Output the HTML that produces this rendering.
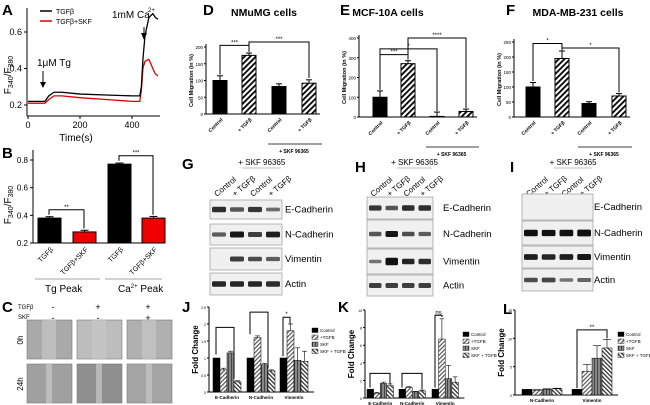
<!DOCTYPE html>
<html><head><meta charset="utf-8"><style>
body{margin:0;background:#fff}
svg{display:block;font-family:"Liberation Sans",sans-serif}
</style></head><body>
<svg id="fig" width="650" height="405" viewBox="0 0 650 405" xmlns="http://www.w3.org/2000/svg">
<defs>
<pattern id="hatch" width="4" height="4" patternUnits="userSpaceOnUse" patternTransform="rotate(45)"><rect width="4" height="4" fill="#fff"/><rect width="1.8" height="4" fill="#000"/></pattern>
<pattern id="hatch2" width="3" height="3" patternUnits="userSpaceOnUse" patternTransform="rotate(45)"><rect width="3" height="3" fill="#fff"/><rect width="1.2" height="3" fill="#555"/></pattern>
<pattern id="cross" width="3" height="3" patternUnits="userSpaceOnUse"><rect width="3" height="3" fill="#888"/><rect width="1" height="3" fill="#444"/></pattern>
<pattern id="hatch3" width="3" height="3" patternUnits="userSpaceOnUse" patternTransform="rotate(-45)"><rect width="3" height="3" fill="#fff"/><rect width="1.3" height="3" fill="#333"/></pattern>
</defs>
<g id="root"></g>
</svg>
<script>
// ---- Panel A data ----
const timeA = [0,50,65,80,100,130,200,300,400,430,436,442,450,465,480,490,500];
const blackA = [.22,.22,.22,.25,.27,.27,.26,.255,.25,.25,.30,.45,.58,.68,.70,.68,.67];
const redA = [.21,.21,.21,.23,.25,.25,.24,.23,.22,.22,.28,.40,.44,.45,.40,.37,.36];
const ticksAx = [0,200,400];
const ticksAy = [0.2,0.4,0.6];
// ---- Panel B ----
const catsB = ["TGFβ","TGFβ+SKF","TGFβ","TGFβ+SKF"];
const valsB = [0.38,0.28,0.77,0.38];
const errB = [0.01,0.012,0.008,0.012];
const ticksBy = [0.2,0.4,0.6,0.8];
// ---- Panels D/E/F ----
const catsDEF = ["Control","+ TGFβ","Control","+ TGFβ"];
const valsD = [100,175,82,92];
const errD = [14,7,8,10];
const ticksD = [0,50,100,150,200];
const valsE = [100,270,3,28];
const errE = [32,15,22,12];
const ticksE = [0,100,200,300,400];
const valsF = [100,195,45,70];
const errF = [15,25,6,8];
const ticksF = [0,50,100,150,200,250];
// ---- Panels J/K/L ----
const seriesNames = ["Control","+TGFB","SKF","SKF + TGFB"];
const groupsJ = ["E-Cadherin","N-Cadherin","Vimentin"];
const valsJ = [[1.0,0.65,1.15,0.3],[1.0,1.6,0.8,0.62],[1.0,1.8,0.93,0.9]];
const errJ = [[0,0.05,0.05,0.03],[0,0.05,0.04,0.03],[0,0.2,0.37,0.3]];
const ticksJ = [0,0.5,1.0,1.5,2.0,2.5];
const groupsK = ["E-Cadherin","N-Cadherin","Vimentin"];
const valsK = [[1.0,0.55,1.65,1.4],[1.0,1.2,0.7,0.8],[1.0,6.7,2.2,1.8]];
const errK = [[0,0.1,0.15,0.2],[0,0.1,0.05,0.1],[0,2.3,1.5,0.6]];
const ticksK = [0,2,4,6,8,10];
const groupsL = ["N-Cadherin","Vimentin"];
const valsL = [[1.0,0.85,1.0,1.1],[1.0,4.2,6.5,8.3]];
const errL = [[0,0.1,0.1,0.1],[0,1.2,2.2,1.5]];
const ticksL = [0,5,10,15];

const NS="http://www.w3.org/2000/svg";
const root=document.getElementById('root');
function el(tag,attrs,parent,text){const e=document.createElementNS(NS,tag);for(const k in attrs)e.setAttribute(k,attrs[k]);if(text!==undefined)e.textContent=text;(parent||root).appendChild(e);return e;}
function lin(d0,d1,r0,r1){return v=>r0+(v-d0)*(r1-r0)/(d1-d0);}
function letter(t,x,y){const e=el('text',{x:x,y:y,'font-size':15,'font-weight':'bold'},root,t);

}
function txt(t,x,y,fs,opt,name){const a=Object.assign({x:x,y:y,'font-size':fs},opt||{});const e=el('text',a,root,t);

return e;}
function line(x1,y1,x2,y2,w,c){const e=el('line',{x1:x1,y1:y1,x2:x2,y2:y2,stroke:c||'#000','stroke-width':w||1});

return e;}
function bracket(x1,x2,yb1,yb2,ytop,label){const p=el('path',{d:`M${x1},${yb1}V${ytop}H${x2}V${yb2}`,fill:'none',stroke:'#000','stroke-width':1});


if(label)txt(label,(x1+x2)/2,ytop-1,6,{'text-anchor':'middle'},'significance-stars');}

// ===== Panel A =====
letter('A',2,15);
{const sx=lin(0,400,28,132),sy=lin(0.2,0.6,105,32);
line(27,8,27,116);line(27,116,160,116);
ticksAx.forEach(t=>{line(sx(t),116,sx(t),119);txt(String(t),sx(t),128,9,{'text-anchor':'middle'},'x-tick-label');});
ticksAy.forEach(t=>{line(24,sy(t),27,sy(t));txt(t.toFixed(1),22,sy(t)+3,9,{'text-anchor':'end'},'y-tick-label');});
txt('Time(s)',76,141,10,{'text-anchor':'middle'},'x-axis-title');
const yl=txt('',11,75,10,{transform:'rotate(-90 11 75)','text-anchor':'middle'},'y-axis-title');
yl.innerHTML='F<tspan font-size="7" dy="2">340</tspan><tspan dy="-2">/F</tspan><tspan font-size="7" dy="2">380</tspan>';
[[redA,'#e00000','trace-tgfb-skf'],[blackA,'#000','trace-tgfb']].forEach(([arr,c,n])=>{
const p=el('polyline',{points:timeA.map((t,i)=>sx(t)+','+sy(arr[i])).join(' '),fill:'none',stroke:c,'stroke-width':1.3});

});
line(40,11,52,11,1.5,'#000');txt('TGFβ',56,14,7,{},'legend-entry');
line(40,21,52,21,1.5,'#e00000');txt('TGFβ+SKF',56,24,7,{},'legend-entry');
txt('1μM Tg',37,66,10,{},'annotation');line(43,71,43,86);el('path',{d:'M40,82L43,88L46,82Z'});
txt('1mM Ca',112,18,10,{},'annotation');txt('2+',148,12,6,{},'annotation');line(144,27,144,37);el('path',{d:'M141,33L144,40L147,33Z'});}

// ===== Panel B =====
letter('B',2,158);
{const sy=lin(0.2,0.8,243,160);const xs=[38,73,108,142];const bw=23;
line(33,150,33,243);line(33,243,165,243);
ticksBy.forEach(t=>{line(30,sy(t),33,sy(t));txt(t.toFixed(1),28,sy(t)+3,8,{'text-anchor':'end'},'y-tick-label');});
const yl=txt('',11,205,10,{transform:'rotate(-90 11 205)','text-anchor':'middle'},'y-axis-title');
yl.innerHTML='F<tspan font-size="7" dy="2">340</tspan><tspan dy="-2">/F</tspan><tspan font-size="7" dy="2">380</tspan>';
valsB.forEach((v,i)=>{const r=el('rect',{x:xs[i],y:sy(v),width:bw,height:243-sy(v),fill:i%2?'#ee0000':'#000',stroke:'#000','stroke-width':1});


line(xs[i]+bw/2,sy(v+errB[i]),xs[i]+bw/2,sy(v));line(xs[i]+bw/2-4,sy(v+errB[i]),xs[i]+bw/2+4,sy(v+errB[i]));
txt(catsB[i],xs[i]+bw/2+4,250,7,{'text-anchor':'end',transform:`rotate(-45 ${xs[i]+bw/2+4} 250)`},'x-tick-label');});
bracket(49,84,sy(0.39)-2,sy(0.29)-2,sy(0.44),'**');
bracket(119,153,sy(0.78)-2,sy(0.39)-2,sy(0.86)+4,'***');
line(35,279,100,279,0.7,'#888');line(105,279,162,279,0.7,'#888');
txt('Tg Peak',45,292,10,{},'group-label');
const cp=txt('',118,292,10,{},'group-label');cp.innerHTML='Ca<tspan font-size="6" dy="-4">2+</tspan><tspan dy="4"> Peak</tspan>';}

// ===== Panel C =====
letter('C',2,312);
txt('TGFβ',18,309,6,{},'row-label');txt('SKF',18,319,6,{},'row-label');
[['-','-'],['+','-'],['+','+']].forEach((s,i)=>{const cx=[53,98,148][i];txt(s[0],cx,310,9,{'text-anchor':'middle'},'sign');txt(s[1],cx,321,9,{'text-anchor':'middle'},'sign');});
txt('0h',23,340,8,{transform:'rotate(-90 23 340)','text-anchor':'middle'},'row-label');
txt('24h',23,384,8,{transform:'rotate(-90 23 384)','text-anchor':'middle'},'row-label');
[[27,320],[77,320],[127,320],[27,364],[77,364],[127,364]].forEach(([x,y],i)=>{
const g=el('rect',{x:x,y:y,width:45,height:39,fill:['#a9a9a9','#bdbdbd','#b0b0b0','#a0a0a0','#8f8f8f','#a5a5a5'][i],stroke:'#777','stroke-width':0.6});


const w=i<3?14:6;el('rect',{x:x+22-w/2,y:y,width:w,height:39,fill:'#c8c8c8',opacity:0.7});});

// ===== Panels D/E/F =====
function barPanel(L,lx,title,tx,ax,ay,ytop,ymax,ticks,vals,errs,bxs,brks){
letter(L,lx,15);txt(title,tx,16,10.5,{'text-anchor':'middle','font-weight':'bold'},'panel-title');
const sy=lin(0,ymax,ay,ytop);line(ax,ytop-3,ax,ay);line(ax,ay,bxs[3]+18,ay);
ticks.forEach(t=>{line(ax-2,sy(t),ax,sy(t));txt(String(t),ax-3,sy(t)+2,4.5,{'text-anchor':'end'},'y-tick-label');});
txt('Cell Migration (in %)',ax-13,(ytop+ay)/2,5.5,{transform:`rotate(-90 ${ax-13} ${(ytop+ay)/2})`,'text-anchor':'middle','font-weight':'bold'},'y-axis-title');
vals.forEach((v,i)=>{const r=el('rect',{x:bxs[i],y:sy(v),width:14,height:ay-sy(v),fill:i%2?'url(#hatch)':'#000',stroke:'#000','stroke-width':1});


const c=bxs[i]+7;line(c,sy(v+errs[i]),c,sy(v));line(c-3,sy(v+errs[i]),c+3,sy(v+errs[i]));
txt(catsDEF[i],c+3,ay+6,5,{'text-anchor':'end','font-weight':'bold',transform:`rotate(-45 ${c+3} ${ay+6})`},'x-tick-label');});
line(bxs[2]-4,ay+30,bxs[3]+20,ay+30,0.8);txt('+ SKF 96365',(bxs[2]+bxs[3]+14)/2,ay+39,5,{'text-anchor':'middle','font-weight':'bold'},'group-label');
brks.forEach(b=>bracket(bxs[b[0]]+7,bxs[b[1]]+7,sy(b[2]),sy(b[3]),sy(b[4]),b[5]));}
barPanel('D',203,'NMuMG cells',264,206,114,47,200,ticksD,valsD,errD,[213,242,272,302],[[0,1,118,186,205,'***'],[1,3,186,108,215,'***']]);
barPanel('E',340,'MCF-10A cells',388,359,117,38,400,ticksE,valsE,errE,[373,401,430,459],[[0,1,138,292,316,'***'],[0,2,138,30,345,'*'],[1,3,292,45,400,'****']]);
barPanel('F',506,'MDA-MB-231 cells',578,514,117,42,250,ticksF,valsF,errF,[526,555,582,612],[[0,1,120,223,245,'*'],[1,3,223,82,230,'*']]);

// ===== Western blots G/H/I =====
const bands=["E-Cadherin","N-Cadherin","Vimentin","Actin"];
function blot(L,lx,ly,bx,bw,lblx,rows,intens){
letter(L,lx,ly);
const cx0=bx+bw*0.125;
txt('+ SKF 96365',bx+bw*0.72,165,8,{'text-anchor':'middle'},'group-label');line(bx+bw*0.45,168,bx+bw*0.98,168,0.7,'#aaa');
["Control","+ TGFβ","Control","+ TGFβ"].forEach((c,i)=>{const x=cx0+i*bw/4-2;txt(c,x,197,8,{transform:`rotate(-40 ${x} 197)`},'lane-label');});
rows.forEach((r,j)=>{const b=el('rect',{x:bx,y:r[0],width:bw,height:r[1],fill:'#f0f0f0',stroke:'#999','stroke-width':0.7});


intens[j].forEach((a,i)=>{if(a>0)el('rect',{x:bx+2+i*bw/4,y:r[0]+r[1]/2-1.5-a,width:bw/4-4,height:3+2*a,rx:1.5,fill:'#111',opacity:Math.min(1,0.45+a*0.35)});});
txt(bands[j],lblx,r[0]+r[1]/2+3,9.5,{},'band-label');});}
blot('G',182,169,210,72,285,[[200,19],[224,21],[248,22],[273,22]],[[1.2,0.7,1.1,0.4],[0.6,1.5,1.0,1.4],[0,1.0,0.8,0.6],[1.3,1.3,1.3,1.2]]);
blot('H',355,172,367,66,443,[[197,22],[220,28],[249,25],[275,21]],[[1.1,0.7,1.2,1.2],[0.7,1.5,0.8,0.6],[0.3,2.3,1.3,1.2],[1.0,1.0,1.0,1.0]]);
blot('I',510,172,522,71,594,[[194,26],[221,24],[246,22],[269,22]],[[0,0,0,0],[1.8,1.6,1.8,1.9],[1.4,1.3,1.4,1.5],[0.8,0.9,0.3,0.5]]);

// ===== Grouped bar panels J/K/L =====
const fills=['#000','url(#hatch2)','url(#cross)','url(#hatch3)'];
function groupPanel(L,lx,ly,ax,ay,ytop,ymax,ticks,groups,vals,errs,gx,bw,legx,legy){
letter(L,lx,ly);const sy=lin(0,ymax,ay,ytop);
line(ax,ytop,ax,ay);line(ax,ay,gx[gx.length-1]+4*bw+6,ay);
ticks.forEach(t=>{line(ax-2,sy(t),ax,sy(t));txt(String(t),ax-3,sy(t)+2,3.5,{'text-anchor':'end'},'y-tick-label');});
txt('Fold Change',ax-11,(ytop+ay)/2,8,{transform:`rotate(-90 ${ax-11} ${(ytop+ay)/2})`,'text-anchor':'middle','font-weight':'bold'},'y-axis-title');
groups.forEach((g,gi)=>{vals[gi].forEach((v,si)=>{const x=gx[gi]+si*bw;
const r=el('rect',{x:x,y:sy(v),width:bw,height:ay-sy(v),fill:fills[si],stroke:'#000','stroke-width':0.5});


if(errs[gi][si]>0){line(x+bw/2,sy(v+errs[gi][si]),x+bw/2,sy(v),0.6);line(x+1,sy(v+errs[gi][si]),x+bw-1,sy(v+errs[gi][si]),0.6);}});
txt(g,gx[gi]+2*bw,ay+7,4.5,{'text-anchor':'middle','font-weight':'bold'},'x-tick-label');});
seriesNames.forEach((n,i)=>{const r=el('rect',{x:legx,y:legy+i*7,width:6,height:4.5,fill:fills[i],stroke:'#000','stroke-width':0.4});


txt(n,legx+8,legy+i*7+4,4.5,{},'legend-entry');});}
groupPanel('J',182,312,209,392,307,2.5,ticksJ,groupsJ,valsJ,errJ,[213,247,280],7,312,328);
groupPanel('K',338,312,365,398,310,10,ticksK,groupsK,valsK,errK,[367,399,432],6.6,463,332);
groupPanel('L',503,314,515,395,310,15,ticksL,groupsL,valsL,errL,[522,572],10,618,332);
// brackets on J/K/L
const sJ=lin(0,2.5,392,307);bracket(216,234,sJ(1.1),sJ(0.4),sJ(1.9),'');bracket(250,268,sJ(1.7),sJ(0.7),sJ(2.35),'');bracket(283,290,sJ(1.05),sJ(2.0),sJ(2.2),'*');
const sK=lin(0,10,398,310);bracket(370,390,sK(1.2),sK(1.6),sK(2.8),'');bracket(402,422,sK(1.2),sK(1.0),sK(2.8),'');bracket(435,442,sK(1.2),sK(9.2),sK(9.4),'ns');
const sL=lin(0,15,395,310);bracket(577,607,sL(1.2),sL(10),sL(11.5),'**');
</script>
</body></html>
